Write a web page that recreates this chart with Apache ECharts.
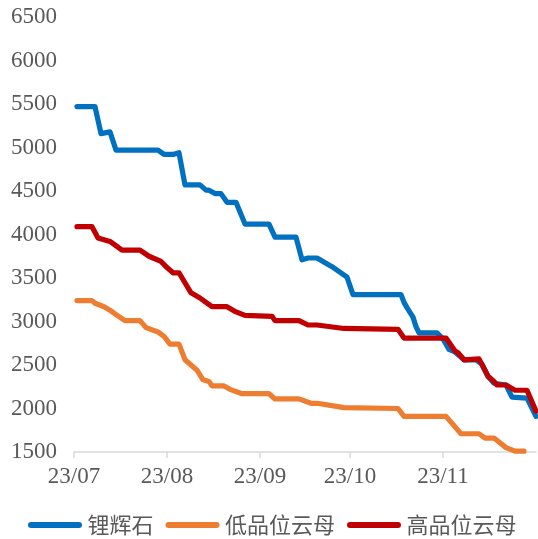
<!DOCTYPE html>
<html>
<head>
<meta charset="utf-8">
<script src="https://cdn.jsdelivr.net/npm/echarts@6/dist/echarts.min.js"></script>
<style>
html,body{margin:0;padding:0;background:#fff;}
#c{width:538px;height:539px;}
</style>
</head>
<body>
<div id="c"></div>
<script>
// ---- data ----
var startDate = '2023-07-01';
var dayCount = 155; // 2023-07-01 .. 2023-12-02 (daily category axis)
var monthTicks = ['2023-07-01','2023-08-01','2023-09-01','2023-10-01','2023-11-01'];
var monthLabels = ['23/07','23/08','23/09','23/10','23/11'];
var yTicks = [1500,2000,2500,3000,3500,4000,4500,5000,5500,6000,6500];

var seriesNames = ['锂辉石','低品位云母','高品位云母'];

var spodDates = ['07-02','07-08','07-10','07-13','07-15','07-29','07-31','08-03','08-05','08-07',
  '08-12','08-14','08-15','08-17','08-19','08-21','08-24','08-27','09-04','09-06',
  '09-13','09-15','09-17','09-20','09-25','09-30','10-02','10-18','10-19','10-20',
  '10-22','10-23','10-24','10-30','11-01','11-03','11-05','11-08','11-12','11-14',
  '11-16','11-18','11-22','11-24','11-29','12-01','12-02'];
var spodValues = [5470,5470,5160,5180,4970,4970,4920,4920,4940,4570,
  4570,4510,4510,4470,4470,4370,4370,4120,4120,3970,
  3970,3710,3730,3730,3630,3510,3310,3310,3220,3160,
  3050,2940,2870,2870,2800,2680,2650,2560,2560,2510,
  2370,2290,2270,2130,2120,1980,1910];

var lowDates = ['07-02','07-07','07-08','07-11','07-13','07-15','07-18','07-23','07-25','07-29',
  '07-31','08-02','08-05','08-07','08-11','08-13','08-15','08-16','08-20','08-22',
  '08-26','09-04','09-06','09-14','09-18','09-20','09-29','10-17','10-19','11-02',
  '11-07','11-13','11-15','11-18','11-22','11-25','11-28'];
var lowValues = [3240,3240,3210,3170,3130,3080,3010,3010,2930,2880,
  2830,2740,2740,2560,2440,2330,2310,2260,2260,2220,
  2170,2170,2110,2110,2060,2060,2010,2000,1910,1910,
  1710,1710,1660,1660,1550,1510,1510];

var highDates = ['07-02','07-07','07-09','07-13','07-17','07-23','07-26','07-30','08-01','08-03',
  '08-05','08-09','08-12','08-14','08-16','08-21','08-24','08-27','09-05',
  '09-06','09-14','09-17','09-20','09-29','10-17','10-19','11-02','11-05','11-06',
  '11-08','11-13','11-16','11-18','11-19','11-22','11-25','11-29','12-02'];
var highValues = [4090,4090,3960,3920,3820,3820,3750,3690,3620,3560,
  3560,3330,3270,3220,3170,3170,3110,3070,3060,
  3010,3010,2960,2960,2920,2910,2810,2810,2660,2640,
  2560,2570,2370,2310,2270,2270,2210,2210,1970];

var colors = ['#0070C0','#ED7D31','#C00000'];

// ---- build ----
function pad(n){return n<10?'0'+n:''+n;}
var categories = [];
(function(){
  var d = new Date(startDate+'T00:00:00Z');
  for (var i=0;i<dayCount;i++){
    categories.push(d.getUTCFullYear()+'-'+pad(d.getUTCMonth()+1)+'-'+pad(d.getUTCDate()));
    d.setUTCDate(d.getUTCDate()+1);
  }
})();
function pairs(dates, vals){
  return dates.map(function(md,i){return ['2023-'+md, vals[i]];});
}
var tickSet = {};
monthTicks.forEach(function(t,i){tickSet[categories.indexOf(t)] = monthLabels[i];});

var serifFont = '"Liberation Serif","Times New Roman",serif';
var cjkFont = '"Noto Sans CJK SC","Liberation Serif",serif';

function mkSeries(name, data, color, z){
  return {
    name: name, type: 'line', data: data, showSymbol: false, symbol: 'none',
    z: z, animation: false,
    lineStyle: {color: color, width: 5.2, cap: 'round', join: 'round'},
    itemStyle: {color: color}
  };
}

var legendIcon = 'path://M3,0 L51,0 A3,3 0 0 1 51,6 L3,6 A3,3 0 0 1 3,0 Z';

var chart = echarts.init(document.getElementById('c'), null, {renderer:'canvas'});
chart.setOption({
  animation: false,
  backgroundColor: '#ffffff',
  color: colors,
  grid: {left: 74, right: 2, top: 17, bottom: 87, containLabel: false},
  legend: {
    data: seriesNames,
    left: 28, top: 514, padding: 0,
    icon: legendIcon,
    itemWidth: 55, itemHeight: 6, itemGap: 12,
    textStyle: {fontFamily: cjkFont, fontSize: 22, color: '#595959', padding: [0,0,0,0]}
  },
  xAxis: {
    type: 'category', data: categories, boundaryGap: false,
    axisLine: {show: true, lineStyle: {color: '#D9D9D9', width: 1.5}},
    axisTick: {show: true, length: 6, lineStyle: {color: '#D9D9D9', width: 1.5},
      interval: function(idx){return tickSet.hasOwnProperty(idx);}},
    axisLabel: {show: true, margin: 13, fontFamily: serifFont, fontSize: 23, color: '#595959',
      interval: function(idx){return tickSet.hasOwnProperty(idx);},
      formatter: function(v, idx){return tickSet[idx] || '';}},
    splitLine: {show: false}
  },
  yAxis: {
    type: 'value', min: yTicks[0], max: yTicks[yTicks.length-1], interval: 500,
    axisLine: {show: false}, axisTick: {show: false},
    splitLine: {show: false},
    axisLabel: {margin: 17, fontFamily: serifFont, fontSize: 23, color: '#595959',
      formatter: function(v){return String(v);}}
  },
  series: [
    mkSeries(seriesNames[0], pairs(spodDates, spodValues), colors[0], 2),
    mkSeries(seriesNames[1], pairs(lowDates, lowValues), colors[1], 3),
    mkSeries(seriesNames[2], pairs(highDates, highValues), colors[2], 4)
  ]
});
</script>
</body>
</html>
